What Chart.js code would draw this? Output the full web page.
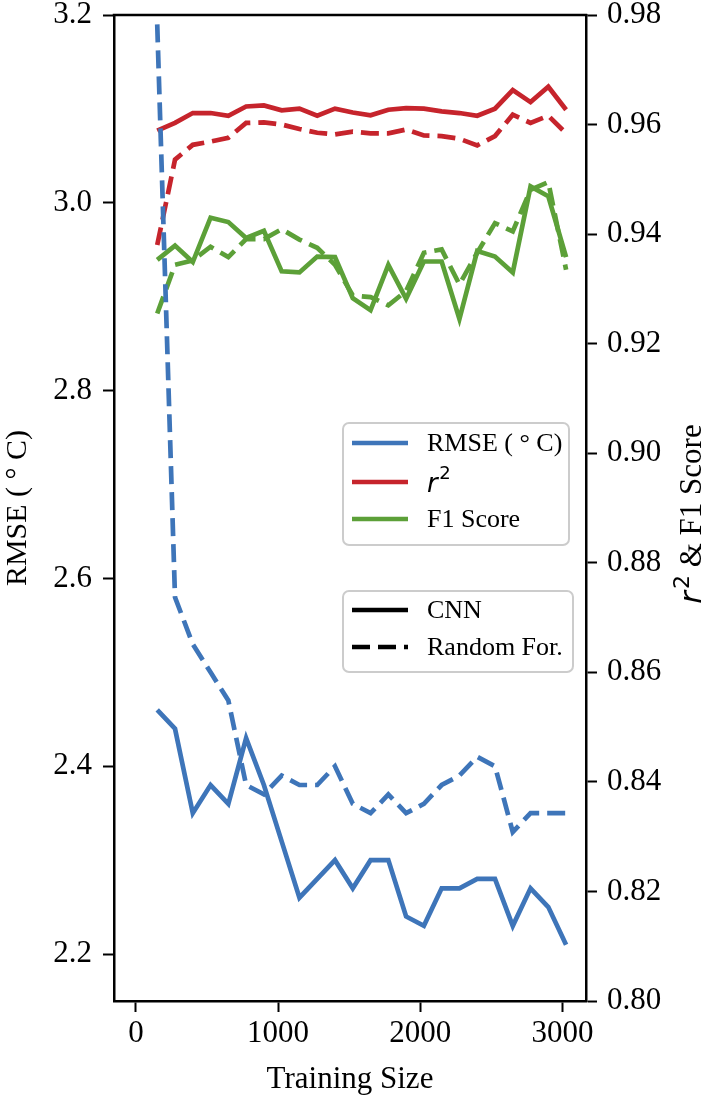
<!DOCTYPE html>
<html>
<head>
<meta charset="utf-8">
<script src="https://cdn.jsdelivr.net/npm/chart.js@4"></script>
<style>
  html, body { margin: 0; padding: 0; background: #fff; }
</style>
</head>
<body>
<canvas id="chart" width="709" height="1098"></canvas>
<script>
// Chart data
const trainingSize = [150, 275, 400, 525, 650, 775, 900, 1025, 1150, 1275, 1400, 1525,
                      1650, 1775, 1900, 2025, 2150, 2275, 2400, 2525, 2650, 2775, 2900, 3025];

const rmseCnn = [2.46, 2.44, 2.35, 2.38, 2.36, 2.43, 2.38, 2.32, 2.26, 2.28, 2.30, 2.27,
                 2.30, 2.30, 2.24, 2.23, 2.27, 2.27, 2.28, 2.28, 2.23, 2.27, 2.25, 2.21];
const rmseRf = [3.19, 2.58, 2.53, 2.50, 2.47, 2.38, 2.37, 2.39, 2.38, 2.38, 2.40, 2.36,
                2.35, 2.37, 2.35, 2.36, 2.38, 2.39, 2.41, 2.40, 2.33, 2.35, 2.35, 2.35];

const r2Cnn = [0.9589, 0.9603, 0.9621, 0.9621, 0.9616, 0.9633, 0.9635, 0.9626, 0.9629, 0.9616, 0.9629, 0.9622,
               0.9617, 0.9627, 0.9630, 0.9629, 0.9624, 0.9621, 0.9616, 0.9629, 0.9663, 0.9641, 0.9669, 0.9627];
const r2Rf = [0.9380, 0.9536, 0.9563, 0.9569, 0.9576, 0.9603, 0.9604, 0.9600, 0.9592, 0.9585, 0.9582, 0.9587,
              0.9584, 0.9584, 0.9591, 0.9580, 0.9579, 0.9574, 0.9562, 0.9579, 0.9618, 0.9603, 0.9616, 0.9584];

const f1Cnn = [0.9353, 0.9379, 0.9349, 0.9430, 0.9422, 0.9393, 0.9406, 0.9332, 0.9330, 0.9359, 0.9358, 0.9283,
               0.9261, 0.9344, 0.9282, 0.9350, 0.9350, 0.9245, 0.9369, 0.9359, 0.9330, 0.9487, 0.9469, 0.9358];
const f1Rf = [0.9255, 0.9344, 0.9352, 0.9377, 0.9358, 0.9391, 0.9391, 0.9409, 0.9390, 0.9375, 0.9344, 0.9288,
              0.9285, 0.9270, 0.9296, 0.9366, 0.9372, 0.9308, 0.9366, 0.9420, 0.9405, 0.9481, 0.9495, 0.9335];

// Tick labels
const xTicks = [0, 1000, 2000, 3000];
const rmseTicks = [2.2, 2.4, 2.6, 2.8, 3.0, 3.2];
const scoreTicks = [0.80, 0.82, 0.84, 0.86, 0.88, 0.90, 0.92, 0.94, 0.96, 0.98];

const BLUE = 'rgb(62, 117, 185)';
const RED = 'rgb(198, 36, 44)';
const GREEN = 'rgb(92, 160, 56)';
const DASH = [18, 8];
const LINE_W = 4.7;
const SERIF = "'Liberation Serif', 'Times New Roman', serif";
const MATH = "'DejaVu Sans', sans-serif";

Chart.defaults.font.family = SERIF;
Chart.defaults.color = '#000';

function points(values) {
    return trainingSize.map((x, i) => ({ x: x, y: values[i] }));
}

function series(data, color, axis, dashed) {
    return {
        data: points(data),
        yAxisID: axis,
        borderColor: color,
        borderWidth: LINE_W,
        borderDash: dashed ? DASH : [],
        pointRadius: 0,
        tension: 0,
        fill: false
    };
}

// italic r with superscript 2, returns drawn width
function drawR2(ctx, x, y, size) {
    ctx.font = `italic ${size}px ${MATH}`;
    ctx.fillText('r', x, y);
    let w = ctx.measureText('r').width + size * 0.06;
    const small = Math.round(size * 0.7);
    ctx.font = `${small}px ${MATH}`;
    ctx.fillText('2', x + w, y - size * 0.4);
    return w + ctx.measureText('2').width;
}

function legendBox(ctx, x, y, w, h) {
    ctx.beginPath();
    ctx.roundRect(x, y, w, h, 6);
    ctx.fillStyle = 'rgba(255,255,255,0.8)';
    ctx.fill();
    ctx.strokeStyle = '#cccccc';
    ctx.lineWidth = 2;
    ctx.stroke();
}

function legendLine(ctx, y, color, dash) {
    ctx.beginPath();
    ctx.setLineDash(dash);
    ctx.strokeStyle = color;
    ctx.lineWidth = LINE_W;
    ctx.moveTo(352, y);
    ctx.lineTo(408, y);
    ctx.stroke();
    ctx.setLineDash([]);
}

const extras = {
    id: 'extras',
    afterDraw(chart) {
        const { ctx, chartArea: a } = chart;
        ctx.save();

        // top spine
        ctx.strokeStyle = '#000';
        ctx.lineWidth = 2.5;
        ctx.beginPath();
        ctx.moveTo(a.left - 1.25, a.top);
        ctx.lineTo(a.right + 1.25, a.top);
        ctx.stroke();

        // metric legend
        legendBox(ctx, 343, 423, 226, 122);
        legendLine(ctx, 443, BLUE, []);
        legendLine(ctx, 482, RED, []);
        legendLine(ctx, 519, GREEN, []);
        ctx.fillStyle = '#000';
        ctx.textBaseline = 'middle';
        ctx.font = `26px ${SERIF}`;
        ctx.fillText('RMSE ( ° C)', 427, 444);
        drawR2(ctx, 427, 485, 26);
        ctx.font = `26px ${SERIF}`;
        ctx.fillText('F1 Score', 427, 520);

        // model legend
        legendBox(ctx, 343, 591, 230, 81);
        legendLine(ctx, 610, '#000', []);
        legendLine(ctx, 647, '#000', DASH);
        ctx.fillStyle = '#000';
        ctx.font = `26px ${SERIF}`;
        ctx.fillText('CNN', 427, 611);
        ctx.fillText('Random For.', 427, 648);

        // right axis title, read bottom to top
        ctx.translate(701, (a.top + a.bottom) / 2 + 6);
        ctx.rotate(-Math.PI / 2);
        ctx.textBaseline = 'alphabetic';
        ctx.font = `31px ${SERIF}`;
        const rest = ' & F1 Score';
        const restW = ctx.measureText(rest).width;
        ctx.font = `italic 31px ${MATH}`;
        const rW = ctx.measureText('r').width + 31 * 0.06;
        ctx.font = `22px ${MATH}`;
        const total = rW + ctx.measureText('2').width + restW;
        const start = -total / 2;
        const r2W = drawR2(ctx, start, 0, 31);
        ctx.font = `31px ${SERIF}`;
        ctx.fillText(rest, start + r2W, 0);

        ctx.restore();
    }
};

const axisGrid = {
    display: true,
    drawOnChartArea: false,
    drawTicks: true,
    tickLength: 11,
    tickWidth: 2,
    tickColor: '#000'
};
const axisBorder = { display: true, color: '#000', width: 2.5 };

function noEdgePadding(s) {
    s.paddingTop = 0;
    s.paddingBottom = 0;
    s.paddingLeft = 0;
    s.paddingRight = 0;
}

new Chart(document.getElementById('chart'), {
    type: 'line',
    data: {
        datasets: [
            series(rmseCnn, BLUE, 'y', false),
            series(rmseRf, BLUE, 'y', true),
            series(r2Cnn, RED, 'y1', false),
            series(r2Rf, RED, 'y1', true),
            series(f1Cnn, GREEN, 'y1', false),
            series(f1Rf, GREEN, 'y1', true)
        ]
    },
    options: {
        responsive: false,
        animation: false,
        layout: { padding: { top: 15, left: 0, right: 0, bottom: 0 } },
        plugins: {
            legend: { display: false },
            tooltip: { enabled: false }
        },
        scales: {
            x: {
                type: 'linear',
                min: -154,
                max: 3165,
                grid: axisGrid,
                border: axisBorder,
                afterBuildTicks: s => { s.ticks = xTicks.map(v => ({ value: v })); },
                afterFit: s => { s.height = 97; noEdgePadding(s); },
                ticks: {
                    font: { size: 31, lineHeight: 1 },
                    padding: 6,
                    maxRotation: 0,
                    callback: v => String(v)
                },
                title: {
                    display: true,
                    text: 'Training Size',
                    font: { size: 31 },
                    padding: { top: 0, bottom: 0 }
                }
            },
            y: {
                position: 'left',
                min: 2.15,
                max: 3.2,
                grid: axisGrid,
                border: axisBorder,
                afterBuildTicks: s => { s.ticks = rmseTicks.map(v => ({ value: v })); },
                afterFit: s => { s.width = 114; noEdgePadding(s); },
                ticks: {
                    font: { size: 31, lineHeight: 1 },
                    padding: 11,
                    callback: v => v.toFixed(1)
                },
                title: {
                    display: true,
                    text: 'RMSE ( ° C)',
                    font: { size: 30 },
                    padding: { top: 0, bottom: 0 }
                }
            },
            y1: {
                position: 'right',
                min: 0.80,
                max: 0.98,
                grid: axisGrid,
                border: axisBorder,
                afterBuildTicks: s => { s.ticks = scoreTicks.map(v => ({ value: v })); },
                afterFit: s => { s.width = 123; noEdgePadding(s); },
                ticks: {
                    font: { size: 31, lineHeight: 1 },
                    padding: 10,
                    callback: v => v.toFixed(2)
                }
            }
        }
    },
    plugins: [extras]
});
</script>
</body>
</html>
